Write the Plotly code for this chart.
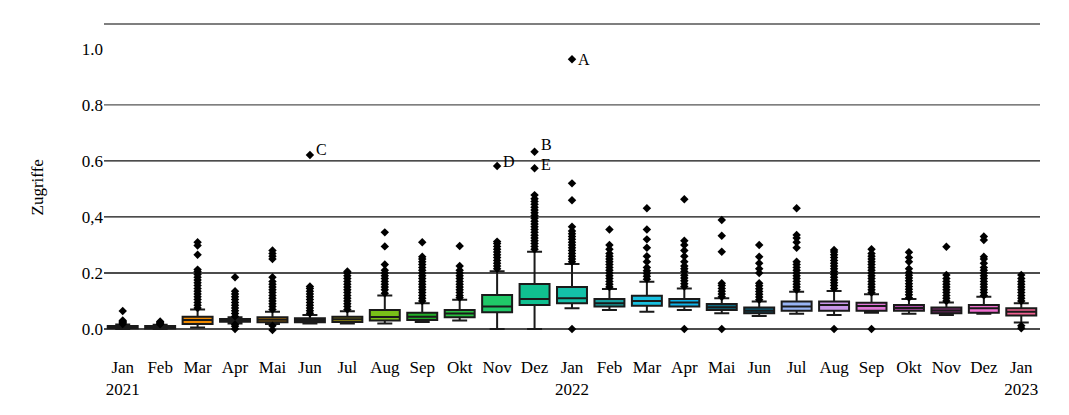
import plotly.graph_objects as go

# ---------------- data ----------------
months = ["2021-01", "2021-02", "2021-03", "2021-04", "2021-05", "2021-06", "2021-07",
          "2021-08", "2021-09", "2021-10", "2021-11", "2021-12", "2022-01", "2022-02",
          "2022-03", "2022-04", "2022-05", "2022-06", "2022-07", "2022-08", "2022-09",
          "2022-10", "2022-11", "2022-12", "2023-01"]
month_labels = ["Jan<br>2021", "Feb", "Mar", "Apr", "Mai", "Jun", "Jul", "Aug", "Sep", "Okt",
                "Nov", "Dez", "Jan<br>2022", "Feb", "Mar", "Apr", "Mai", "Jun", "Jul", "Aug",
                "Sep", "Okt", "Nov", "Dez", "Jan<br>2023"]

q1 = [0.003, 0.002, 0.018, 0.026, 0.024, 0.024, 0.025, 0.030, 0.032, 0.042, 0.060, 0.086, 0.092,
      0.080, 0.083, 0.080, 0.068, 0.056, 0.065, 0.065, 0.065, 0.065, 0.056, 0.058, 0.048]
median = [0.007, 0.007, 0.032, 0.031, 0.033, 0.031, 0.035, 0.043, 0.044, 0.055, 0.080, 0.107, 0.110,
          0.092, 0.100, 0.095, 0.078, 0.065, 0.080, 0.086, 0.082, 0.075, 0.066, 0.074, 0.062]
q3 = [0.011, 0.011, 0.044, 0.036, 0.042, 0.038, 0.044, 0.068, 0.058, 0.068, 0.121, 0.161, 0.150,
      0.107, 0.119, 0.107, 0.089, 0.077, 0.098, 0.098, 0.094, 0.086, 0.077, 0.086, 0.074]
lowerfence = [0.000, 0.000, 0.005, 0.020, 0.018, 0.020, 0.020, 0.020, 0.025, 0.030, 0.000, 0.000, 0.074,
              0.068, 0.062, 0.068, 0.056, 0.046, 0.054, 0.050, 0.058, 0.054, 0.050, 0.054, 0.023]
upperfence = [0.016, 0.015, 0.070, 0.042, 0.062, 0.050, 0.063, 0.120, 0.092, 0.104, 0.206, 0.276, 0.232,
              0.143, 0.169, 0.145, 0.110, 0.098, 0.133, 0.136, 0.124, 0.107, 0.095, 0.115, 0.092]

out_jan21 = [0.018, 0.021, 0.024, 0.027, 0.030, 0.064]
out_feb21 = [0.017, 0.020, 0.023, 0.027]
out_mar21 = [0.075, 0.085, 0.095, 0.105, 0.115, 0.125, 0.135, 0.145, 0.155, 0.165, 0.175, 0.185,
             0.195, 0.205, 0.212, 0.265, 0.298, 0.31]
out_apr21 = [0.0, 0.01, 0.016, 0.045, 0.055, 0.065, 0.075, 0.085, 0.095, 0.105, 0.115, 0.125, 0.135, 0.185]
out_mai21 = [-0.004, 0.012, 0.07, 0.08, 0.09, 0.10, 0.11, 0.12, 0.13, 0.14, 0.15, 0.16, 0.17, 0.185,
             0.25, 0.26, 0.27, 0.28]
out_jun21 = [0.056, 0.065, 0.075, 0.085, 0.095, 0.105, 0.115, 0.125, 0.135, 0.145, 0.152, 0.621]
out_jul21 = [0.07, 0.08, 0.09, 0.10, 0.11, 0.12, 0.13, 0.14, 0.15, 0.16, 0.17, 0.18, 0.19, 0.2, 0.205]
out_aug21 = [0.128, 0.14, 0.15, 0.16, 0.17, 0.18, 0.19, 0.2, 0.21, 0.23, 0.295, 0.345]
out_sep21 = [0.1, 0.11, 0.12, 0.13, 0.14, 0.15, 0.16, 0.17, 0.18, 0.19, 0.2, 0.21, 0.22, 0.23, 0.24,
             0.25, 0.258, 0.31]
out_okt21 = [0.112, 0.12, 0.13, 0.14, 0.15, 0.16, 0.17, 0.18, 0.19, 0.2, 0.21, 0.225, 0.296]
out_nov21 = [0.215, 0.225, 0.235, 0.245, 0.255, 0.265, 0.275, 0.285, 0.295, 0.305, 0.312, 0.582]
out_dez21 = [0.285, 0.295, 0.305, 0.315, 0.325, 0.335, 0.345, 0.355, 0.365, 0.375, 0.385, 0.395,
             0.405, 0.415, 0.425, 0.435, 0.445, 0.455, 0.465, 0.478, 0.574, 0.633]
out_jan22 = [0.0, 0.24, 0.25, 0.26, 0.27, 0.28, 0.29, 0.3, 0.31, 0.32, 0.33, 0.34, 0.35, 0.365,
             0.46, 0.52, 0.963]
out_feb22 = [0.15, 0.16, 0.17, 0.18, 0.19, 0.2, 0.21, 0.22, 0.23, 0.24, 0.25, 0.26, 0.27, 0.285,
             0.30, 0.355]
out_mar22 = [0.178, 0.188, 0.198, 0.208, 0.22, 0.24, 0.26, 0.29, 0.32, 0.355, 0.431]
out_apr22 = [0.0, 0.152, 0.162, 0.172, 0.182, 0.192, 0.205, 0.215, 0.225, 0.24, 0.26, 0.28, 0.3,
             0.315, 0.463]
out_mai22 = [0.0, 0.115, 0.125, 0.135, 0.145, 0.155, 0.163, 0.276, 0.333, 0.389]
out_jun22 = [0.104, 0.114, 0.124, 0.134, 0.144, 0.154, 0.163, 0.2, 0.215, 0.235, 0.258, 0.3]
out_jul22 = [0.14, 0.15, 0.16, 0.17, 0.18, 0.19, 0.2, 0.21, 0.22, 0.23, 0.24, 0.29, 0.31, 0.325,
             0.336, 0.431]
out_aug22 = [0.0, 0.145, 0.155, 0.165, 0.175, 0.185, 0.195, 0.205, 0.215, 0.225, 0.235, 0.245,
             0.255, 0.265, 0.275, 0.282]
out_sep22 = [0.0, 0.13, 0.14, 0.15, 0.16, 0.17, 0.18, 0.19, 0.2, 0.21, 0.22, 0.23, 0.24, 0.25,
             0.26, 0.27, 0.285]
out_okt22 = [0.112, 0.122, 0.132, 0.142, 0.152, 0.162, 0.172, 0.182, 0.192, 0.202, 0.215, 0.24,
             0.255, 0.274]
out_nov22 = [0.1, 0.11, 0.12, 0.13, 0.14, 0.15, 0.16, 0.17, 0.18, 0.193, 0.294]
out_dez22 = [0.12, 0.13, 0.14, 0.15, 0.16, 0.17, 0.18, 0.19, 0.2, 0.21, 0.22, 0.235, 0.25, 0.258,
             0.318, 0.33]
out_jan23 = [0.003, 0.012, 0.1, 0.11, 0.12, 0.13, 0.14, 0.15, 0.16, 0.17, 0.18, 0.193]

outliers = [out_jan21, out_feb21, out_mar21, out_apr21, out_mai21, out_jun21, out_jul21, out_aug21,
            out_sep21, out_okt21, out_nov21, out_dez21, out_jan22, out_feb22, out_mar22, out_apr22,
            out_mai22, out_jun22, out_jul22, out_aug22, out_sep22, out_okt22, out_nov22, out_dez22,
            out_jan23]

label_text = ["A", "B", "C", "D", "E"]
label_month = ["2022-01", "2021-12", "2021-06", "2021-11", "2021-12"]
label_value = [0.963, 0.633, 0.621, 0.582, 0.574]
label_yshift = [0, 7, 6, 5, 4]

y_tickvals = [0.0, 0.2, 0.4, 0.6, 0.8, 1.0]
y_ticktext = ["0.0", "0.2", "0,4", "0.6", "0.8", "1.0"]
grid_vals = [0.0, 0.2, 0.4, 0.6, 0.8]

colors = ["#a83a30", "#8a5a24", "#f08a00", "#b87000", "#c88000", "#8a7a10", "#9a9010",
          "#78c018", "#22b028", "#28c040", "#20c868", "#10c090", "#14c0a8", "#18a0a0",
          "#18c0e0", "#10b4ea", "#0e6a80", "#0c5a74", "#98b4f4", "#c898e8", "#e078d8",
          "#b04aa8", "#7e2c70", "#f070d0", "#f06090"]

# ---------------- figure ----------------
FONT = "Liberation Serif, DejaVu Serif, serif"
fig = go.Figure()

for i, m in enumerate(months):
    fig.add_trace(go.Box(
        x=[m], q1=[q1[i]], median=[median[i]], q3=[q3[i]],
        lowerfence=[lowerfence[i]], upperfence=[upperfence[i]],
        fillcolor=colors[i], line=dict(color="#1a1a1a", width=2),
        width=0.8, whiskerwidth=0.5, boxpoints=False, showlegend=False,
        hoverinfo="skip",
    ))

ox, oy = [], []
for m, vals in zip(months, outliers):
    for v in vals:
        ox.append(m)
        oy.append(v)
fig.add_trace(go.Scatter(
    x=ox, y=oy, mode="markers", showlegend=False,
    marker=dict(symbol="diamond", size=6.5, color="black", line=dict(width=0)),
    hoverinfo="skip",
))

for t, m, v, ys in zip(label_text, label_month, label_value, label_yshift):
    fig.add_annotation(x=m, y=v, text=t, showarrow=False, xanchor="left", yanchor="middle",
                       xshift=4, yshift=ys, font=dict(family=FONT, size=16, color="black"))

for g in grid_vals:
    fig.add_shape(type="line", xref="paper", x0=0, x1=1, yref="y", y0=g, y1=g,
                  line=dict(color="#555555" if g == 0.8 else "#111111", width=1.3), layer="below")
fig.add_shape(type="line", xref="paper", x0=0, x1=1, yref="paper", y0=1, y1=1,
              line=dict(color="#555555", width=1.5), layer="below")

fig.add_annotation(text="Zugriffe", xref="paper", yref="paper", x=-0.083, y=0.487,
                   textangle=-90, showarrow=False, font=dict(family=FONT, size=17, color="black"))

fig.update_layout(
    width=1069, height=415,
    margin=dict(l=96, r=37, t=16, b=80),
    paper_bgcolor="white", plot_bgcolor="white",
    font=dict(family=FONT, size=17, color="black"),
    boxmode="overlay",
    xaxis=dict(type="category", categoryorder="array", categoryarray=months,
               tickmode="array", tickvals=months, ticktext=month_labels,
               showgrid=False, zeroline=False, showline=False, ticks="",
               tickfont=dict(family=FONT, size=17, color="black"),
               ticklabelstandoff=12, range=[-0.5, len(months) - 0.5]),
    yaxis=dict(range=[-0.05, 1.089], tickmode="array", tickvals=y_tickvals, ticktext=y_ticktext,
               showgrid=False, zeroline=False, showline=False, ticks="",
               tickfont=dict(family=FONT, size=17, color="black")),
)

fig.write_html("out.html")
